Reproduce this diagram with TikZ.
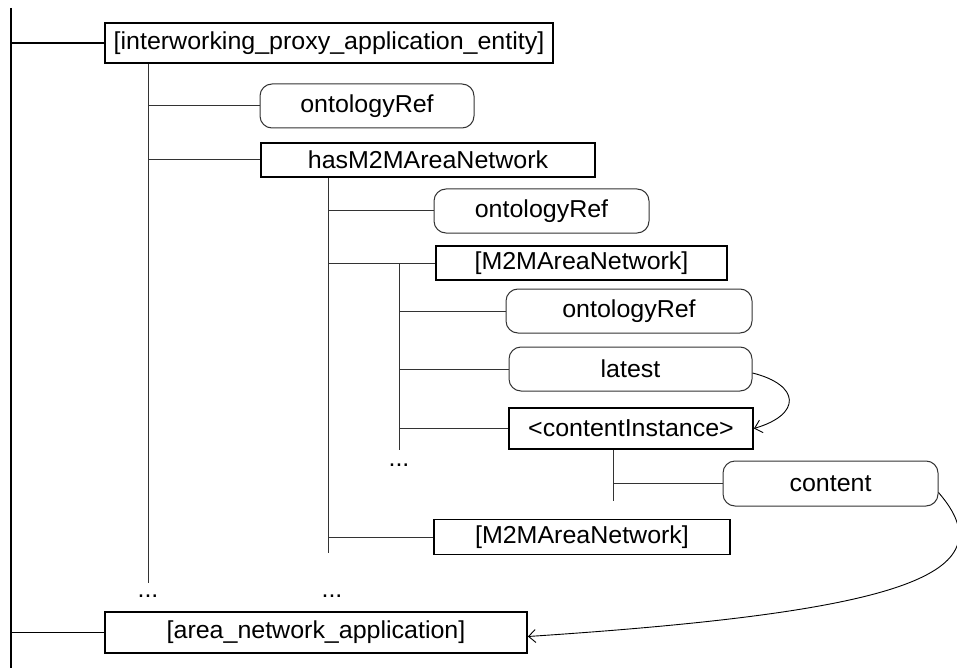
\documentclass[tikz,border=0pt]{standalone}
\usepackage{fontspec}
\setmainfont{Liberation Sans}[FakeStretch=1.02]
\usepackage{tikz}
\usetikzlibrary{positioning,arrows.meta}
\definecolor{line700}{HTML}{333333}
\tikzset{
  every node/.style={font=\fontsize{24.5}{28}\selectfont},
  element/.style={
    rectangle, draw=black, line width=1.8pt,
    inner sep=0pt, align=center
  },
  attribute/.style={
    rectangle, rounded corners=12pt,
    draw=line700, line width=1pt,
    inner sep=0pt, align=center
  },
  branch/.style={draw=line700, line width=1pt},
  rootbranch/.style={draw=black, line width=1.6pt},
  reference/.style={
    -{Straight Barb[length=7pt,width=13pt]},
    draw=black, line width=0.9pt
  },
}
\begin{document}
\begin{tikzpicture}[x=1pt,y=-1pt]
  \useasboundingbox[fill=white] (0,0) rectangle (957,668);
  % top level elements
  \node[element, minimum width=448pt, minimum height=40pt] (ipae) at (329,43) {[interworking\_proxy\_application\_entity]};
  \node[element, minimum width=422pt, minimum height=41pt] (ana) at (316,632.5) {[area\_network\_application]};
  % children of the proxy entity
  \node[attribute, minimum width=214pt, minimum height=44pt] (ontA) at (367,106) {ontologyRef};
  \node[element, minimum width=334pt, minimum height=34pt] (hasnet) at (428,160) {hasM2MAreaNetwork};
  \node[attribute, minimum width=215pt, minimum height=44pt] (ontB) at (541.5,211) {ontologyRef};
  \node[element, minimum width=291pt, minimum height=34pt] (netA) at (581.5,263) {[M2MAreaNetwork]};
  \node[element, minimum width=296pt, minimum height=35pt] (netB) at (582,537) {[M2MAreaNetwork]};
  % children of the first area network
  \node[attribute, minimum width=246pt, minimum height=44pt] (ontC) at (629,311) {ontologyRef};
  \node[attribute, minimum width=243pt, minimum height=44pt] (latest) at (630.5,369) {latest};
  \node[element, minimum width=244pt, minimum height=41pt] (cinst) at (631,428.5) {<contentInstance>};
  \node[attribute, minimum width=215pt, minimum height=45pt] (content) at (830.5,483.5) {content};
  % ellipses
  \node (moreC) at (399,465) {...};
  \node (moreA) at (148,596) {...};
  \node (moreB) at (332,596) {...};
  % trunk lines
  \coordinate (rtop) at (11,8);
  \coordinate (rbot) at (11,668);
  \coordinate (tA) at (148,583);
  \coordinate (tB) at (328,553);
  \coordinate (tCtop) at (399,263);
  \coordinate (tC) at (399,450);
  \coordinate (tD) at (613,501);
  \draw[rootbranch, line width=1.2pt] (rtop) -- (rbot);
  \draw[rootbranch] (rtop |- ipae.west) -- (ipae.west);
  \draw[rootbranch] (rbot |- ana.west) -- (ana.west);
  \draw[branch] (ipae.south -| tA) -- (tA);
  \draw[branch] (tA |- ontA.west) -- (ontA.west);
  \draw[branch] (tA |- hasnet.west) -- (hasnet.west);
  \draw[branch] (hasnet.south -| tB) -- (tB);
  \draw[branch] (tB |- ontB.west) -- (ontB.west);
  \draw[branch] (tB |- netA.west) -- (netA.west);
  \draw[branch] (tB |- netB.west) -- (netB.west);
  \draw[branch] (tCtop) -- (tC);
  \draw[branch] (tC |- ontC.west) -- (ontC.west);
  \draw[branch] (tC |- latest.west) -- (latest.west);
  \draw[branch] (tC |- cinst.west) -- (cinst.west);
  \draw[branch] (cinst.south -| tD) -- (tD);
  \draw[branch] (tD |- content.west) -- (content.west);
  % references
  \draw[reference] ([yshift=-4pt]latest.east) .. controls +(48,12) and +(48,-14) .. (cinst.east);
  \draw[reference] ([yshift=-9pt]content.east) .. controls (1010,575) and (900,612) .. ([yshift=-4pt]ana.east);
\end{tikzpicture}
\end{document}
